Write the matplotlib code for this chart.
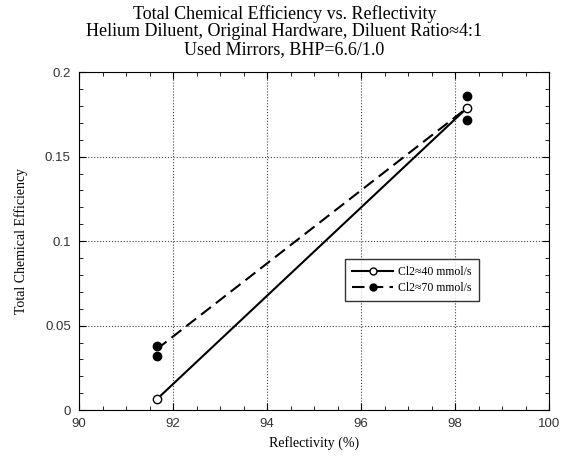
import matplotlib.pyplot as plt
from matplotlib.ticker import MultipleLocator

# values
refl = [91.65, 98.26]
eff_40 = [0.0063, 0.179]
eff_70_pts_x = [91.65, 91.65, 98.26, 98.26]
eff_70_pts_y = [0.038, 0.032, 0.186, 0.172]
eff_70_line = [0.036, 0.179]

serif = ['Liberation Serif', 'DejaVu Serif']
sans = ['Liberation Sans', 'DejaVu Sans']

fig = plt.figure(figsize=(5.69, 4.66), dpi=100)
ax = fig.add_axes([0.139, 0.120, 0.826, 0.725])

ax.plot(refl, eff_40, color='black', lw=1.5, marker='o', mfc='white', mec='black',
        ms=6, label='Cl2\u224840 mmol/s')
ax.plot(refl, eff_70_line, color='black', lw=1.5, ls=(0, (6, 3)), label='Cl2\u224870 mmol/s')
ax.plot(eff_70_pts_x, eff_70_pts_y, ls='none', marker='o', color='black', ms=6)
# legend proxy for the dashed series with marker
h1, = ax.plot([], [], color='black', lw=1.5, marker='o', mfc='white', mec='black', ms=5)
h2, = ax.plot([], [], color='black', lw=1.5, ls=(0, (6, 3)), marker='o', ms=5)

ax.set_xlim(90, 100)
ax.set_ylim(0, 0.2)
ax.xaxis.set_major_locator(MultipleLocator(2))
ax.xaxis.set_minor_locator(MultipleLocator(0.5))
ax.yaxis.set_major_locator(MultipleLocator(0.05))
ax.yaxis.set_minor_locator(MultipleLocator(0.01))
ax.set_yticks([0, 0.05, 0.1, 0.15, 0.2])
ax.set_yticklabels(['0', '0.05', '0.1', '0.15', '0.2'])
ax.tick_params(which='both', direction='in', top=True, right=True, labelsize=9.5,
               labelcolor='#333333')
ax.tick_params(which='major', length=5, pad=6)
ax.tick_params(which='minor', length=3)
for lab in ax.get_xticklabels() + ax.get_yticklabels():
    lab.set_family(sans)
ax.grid(True, which='major', ls=':', color='#444444', lw=0.8)

ax.set_xlabel('Reflectivity (%)', family=serif, fontsize=10)
ax.set_ylabel('Total Chemical Efficiency', family=serif, fontsize=10, labelpad=12)
fig.text(0.5, 0.99, 'Total Chemical Efficiency vs. Reflectivity\n'
         'Helium Diluent, Original Hardware, Diluent Ratio\u22484:1\n'
         'Used Mirrors, BHP=6.6/1.0', family=serif, fontsize=13,
         ha='center', va='top', linespacing=1.07)

leg = ax.legend([h1, h2], ['Cl2\u224840 mmol/s', 'Cl2\u224870 mmol/s'],
                loc='upper left', bbox_to_anchor=(0.554, 0.465), prop={'family': serif, 'size': 8.5},
                frameon=True, fancybox=False, edgecolor='black', handlelength=3.4,
                borderpad=0.6, labelspacing=0.35, handletextpad=0.5)
leg.get_frame().set_linewidth(1.0)

fig.savefig('out.png', dpi=100)
